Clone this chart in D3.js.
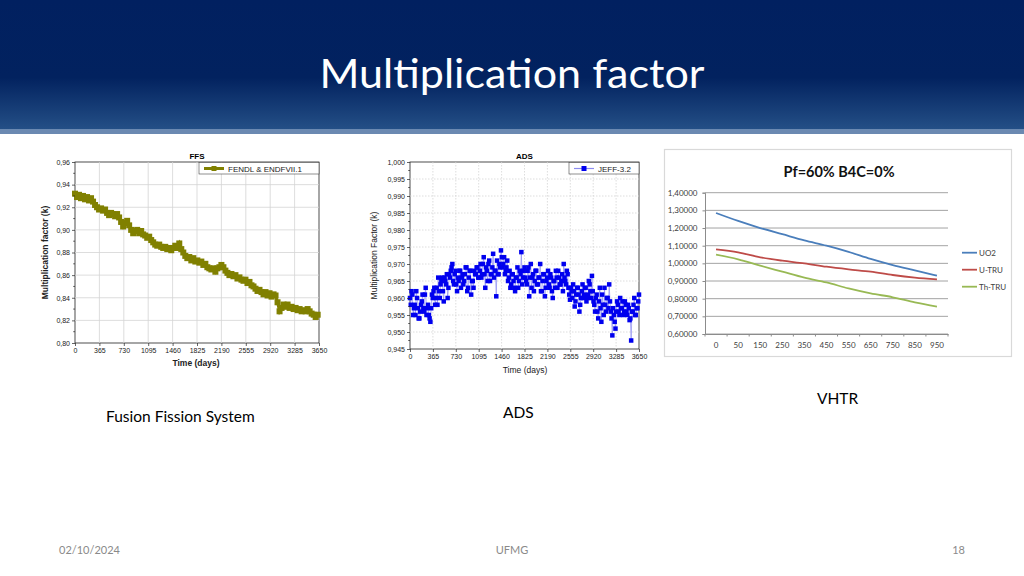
<!DOCTYPE html>
<html>
<head>
<meta charset="utf-8">
<script src="https://cdn.jsdelivr.net/npm/d3@7"></script>
<style>
body{margin:0;background:#fff}
svg{display:block}
</style>
</head>
<body>
<svg width="1024" height="576"></svg>
<script>
// ---- data ----
const FFS_STEP = 30  // days between samples
const FFS_K = [0.932,0.929,0.931,0.928,0.930,0.927,0.929,0.926,0.928,0.925,0.922,0.920,0.918,0.919,0.917,0.918,0.915,0.913,0.915,0.914,
  0.912,0.914,0.911,0.907,0.903,0.906,0.908,0.904,0.900,0.897,0.899,0.900,0.897,0.899,0.896,0.895,0.893,0.894,0.891,0.889,
  0.887,0.886,0.887,0.885,0.884,0.885,0.883,0.884,0.882,0.884,0.886,0.884,0.888,0.883,0.880,0.877,0.875,0.876,0.873,0.875,
  0.872,0.873,0.871,0.872,0.869,0.870,0.867,0.866,0.865,0.866,0.863,0.866,0.867,0.869,0.867,0.864,0.862,0.860,0.861,0.859,
  0.860,0.857,0.858,0.856,0.855,0.856,0.853,0.854,0.851,0.850,0.848,0.846,0.847,0.845,0.843,0.845,0.842,0.844,0.841,0.843,
  0.842,0.836,0.828,0.831,0.834,0.832,0.834,0.831,0.832,0.830,0.831,0.829,0.830,0.828,0.829,0.828,0.830,0.828,0.826,0.825,
  0.823,0.825]
const ADS_STEP = 25
// samples on whole steps (0, 25, 50 ...)
const ADS_K = [0.960,0.962,0.955,0.958,0.962,0.957,0.954,0.958,0.961,0.956,0.963,0.957,0.955,0.953,0.961,0.962,0.958,0.963,0.966,0.960,
  0.965,0.962,0.966,0.964,0.960,0.967,0.968,0.970,0.964,0.968,0.962,0.965,0.968,0.966,0.964,0.967,0.969,0.963,0.968,0.961,
  0.965,0.968,0.967,0.969,0.966,0.970,0.967,0.972,0.963,0.968,0.970,0.965,0.967,0.973,0.968,0.9605,0.967,0.970,0.974,0.969,
  0.972,0.968,0.971,0.966,0.963,0.967,0.965,0.962,0.966,0.963,0.968,0.9735,0.966,0.969,0.965,0.968,0.9605,0.970,0.966,0.962,
  0.968,0.964,0.966,0.970,0.962,0.967,0.9605,0.965,0.968,0.963,0.966,0.960,0.965,0.968,0.963,0.966,0.964,0.967,0.970,0.965,
  0.968,0.963,0.9595,0.962,0.964,0.9575,0.961,0.963,0.956,0.960,0.964,0.961,0.963,0.960,0.965,0.962,0.9665,0.959,0.956,0.961,
  0.954,0.963,0.953,0.958,0.963,0.956,0.960,0.964,0.956,0.949,0.955,0.951,0.959,0.956,0.960,0.957,0.955,0.959,0.956,0.958,
  0.9535,0.9475,0.956,0.960,0.955,0.957,0.961]
// samples on half steps (12.5, 37.5 ...)
const ADS_K_HALF = [0.958,0.961,0.957,0.955,0.960,0.954,0.956,0.959,0.957,0.961,0.955,0.958,0.954,0.957,0.960,
  0.963,0.960,0.958,0.962,0.964,0.966,0.959,0.965,0.967,0.963,0.966,0.969,0.965,0.967,0.964,
  0.966,0.968,0.963,0.967,0.965,0.969,0.962,0.966,0.968,0.965,0.963,0.967,0.969,0.966,
  0.968,0.966,0.970,0.967,0.969,0.965,0.971,0.967,0.969,0.966,0.968,0.971,0.967,0.969,0.972,
  0.970,0.967,0.969,0.965,0.968,0.964,0.967,0.963,0.966,0.969,0.965,0.967,0.964,0.968,
  0.966,0.964,0.969,0.966,0.963,0.967,0.965,0.968,0.964,0.966,0.962,0.965,0.967,0.963,0.966,
  0.964,0.967,0.962,0.965,0.963,0.966,0.968,0.964,0.965,0.962,0.966,0.964,0.967,0.961,0.963,
  0.960,0.962,0.959,0.963,0.961,0.958,0.962,0.960,0.963,0.959,0.961,0.964,0.960,0.962,
  0.958,0.960,0.956,0.959,0.957,0.961,0.955,0.958,0.960,0.957,0.959,0.954,0.957,0.953,0.956,
  0.958,0.955,0.957,0.959,0.956,0.958,0.955,0.957,0.954,0.956,0.958,0.955,0.957,0.959]
const DAY_TICKS = [0,365,730,1095,1460,1825,2190,2555,2920,3285,3650]
const FFS_Y_TICKS = [0.80,0.82,0.84,0.86,0.88,0.90,0.92,0.94,0.96]
const ADS_Y_TICKS = [0.945,0.950,0.955,0.960,0.965,0.970,0.975,0.980,0.985,0.990,0.995,1.000]

const VHTR_X = ['0','50','150','250','350','450','550','650','750','850','950']
const VHTR_UO2 = [1.285,1.240,1.200,1.165,1.130,1.100,1.065,1.025,0.990,0.960,0.930]
const VHTR_UTRU = [1.079,1.062,1.034,1.015,1.000,0.981,0.966,0.953,0.934,0.919,0.909]
const VHTR_THTRU = [1.049,1.023,0.987,0.953,0.919,0.892,0.858,0.830,0.808,0.779,0.755]
const VHTR_Y_TICKS = [0.6,0.7,0.8,0.9,1.0,1.1,1.2,1.3,1.4]

const svg = d3.select('svg')
const locale = d3.formatLocale({decimal: ',', thousands: '.', grouping: [3], currency: ['', '']})

// ---- slide header ----
const defs = svg.append('defs')
const grad = defs.append('linearGradient').attr('id', 'hdr').attr('x1', 0).attr('y1', 0).attr('x2', 0).attr('y2', 1)
grad.append('stop').attr('offset', '0').attr('stop-color', '#012060')
grad.append('stop').attr('offset', '0.6').attr('stop-color', '#02225f')
grad.append('stop').attr('offset', '1').attr('stop-color', '#244f86')
svg.append('rect').attr('x', 0).attr('y', 0).attr('width', 1024).attr('height', 129).attr('fill', 'url(#hdr)')
svg.append('rect').attr('x', 0).attr('y', 129).attr('width', 1024).attr('height', 5).attr('fill', '#6b89b1')
svg.append('text').attr('x', 512).attr('y', 88).attr('text-anchor', 'middle')
  .attr('font-family', 'Lato, sans-serif').attr('font-size', 40).attr('fill', '#fff')
  .attr('textLength', 385).attr('lengthAdjust', 'spacingAndGlyphs')
  .text('Multiplication factor')

// ---- generic Origin-style scatter/line chart ----
const drawOrigin = (opt) => {
  const g = svg.append('g')
  const {left, right, top, bottom} = opt
  const xScale = d3.scaleLinear().domain([0, 3650]).range([left, right])
  const yScale = d3.scaleLinear().domain(opt.yDomain).range([bottom, top])
  const fmt = locale.format(opt.fmt)

  g.append('rect').attr('x', left).attr('y', top).attr('width', right - left).attr('height', bottom - top)
    .attr('fill', '#fff').attr('stroke', '#222').attr('stroke-width', 0.8)

  // grid
  g.append('g').selectAll('line').data(DAY_TICKS.slice(1, -1)).enter().append('line')
    .attr('x1', d => xScale(d)).attr('x2', d => xScale(d)).attr('y1', top).attr('y2', bottom)
    .attr('stroke', '#d4d4d4').attr('stroke-width', 0.8).attr('stroke-dasharray', opt.dash)
  g.append('g').selectAll('line').data(opt.yTicks.slice(1, -1)).enter().append('line')
    .attr('y1', d => yScale(d)).attr('y2', d => yScale(d)).attr('x1', left).attr('x2', right)
    .attr('stroke', '#d4d4d4').attr('stroke-width', 0.8).attr('stroke-dasharray', opt.dash)

  // series
  const pts = opt.points
  g.append('path').datum(pts)
    .attr('d', d3.line().x(d => xScale(d[0])).y(d => yScale(d[1])))
    .attr('fill', 'none').attr('stroke', opt.lineColor).attr('stroke-width', opt.lineWidth)
  g.append('g').selectAll('rect').data(pts).enter().append('rect')
    .attr('x', d => xScale(d[0]) - opt.marker / 2).attr('y', d => yScale(d[1]) - opt.marker / 2)
    .attr('width', opt.marker).attr('height', opt.marker).attr('fill', opt.markerColor)

  // axes
  const minor = []
  for (let i = 0; i < opt.yTicks.length - 1; i++) minor.push((opt.yTicks[i] + opt.yTicks[i + 1]) / 2)
  const yAxis = g.append('g').attr('transform', `translate(${left},0)`)
    .call(d3.axisLeft(yScale).tickValues(opt.yTicks).tickFormat(fmt).tickSize(3).tickPadding(2))
  yAxis.append('g').selectAll('line').data(minor).enter().append('line')
    .attr('x1', 0).attr('x2', -1.8).attr('y1', d => yScale(d)).attr('y2', d => yScale(d)).attr('stroke', '#000')
  const xAxis = g.append('g').attr('transform', `translate(0,${bottom})`)
    .call(d3.axisBottom(xScale).tickValues(DAY_TICKS).tickFormat(d3.format('d')).tickSize(3).tickPadding(2))
  ;[yAxis, xAxis].forEach(a => {
    a.select('.domain').remove()
    a.selectAll('text').attr('font-family', 'Liberation Sans, Arial, sans-serif').attr('font-size', 7).attr('fill', '#222')
    a.selectAll('line').attr('stroke', '#222').attr('stroke-width', 0.7)
  })

  // labels
  const weight = opt.bold ? 'bold' : 'normal'
  g.append('text').attr('x', (left + right) / 2).attr('y', top - 3).attr('text-anchor', 'middle')
    .attr('font-family', 'Liberation Sans, Arial, sans-serif').attr('font-size', 8).attr('font-weight', 'bold').text(opt.title)
  g.append('text').attr('x', opt.xLabelX).attr('y', opt.xLabelY).attr('text-anchor', 'middle')
    .attr('font-family', 'Liberation Sans, Arial, sans-serif').attr('font-size', 8.5).attr('font-weight', weight)
    .attr('fill', '#222').text('Time (days)')
  g.append('text').attr('transform', `translate(${opt.yLabelX},${(top + bottom) / 2}) rotate(-90)`)
    .attr('text-anchor', 'middle').attr('font-family', 'Liberation Sans, Arial, sans-serif')
    .attr('font-size', 8.5).attr('font-weight', weight).attr('fill', '#222').text(opt.yLabel)

  // legend
  const lg = g.append('g').attr('transform', `translate(${opt.legendX},${top})`)
  lg.append('rect').attr('x', 0).attr('y', 0.5).attr('width', right - opt.legendX).attr('height', 11.5)
    .attr('fill', '#fff').attr('stroke', '#444').attr('stroke-width', 0.6)
  lg.append('line').attr('x1', 5).attr('x2', 25).attr('y1', 6.5).attr('y2', 6.5)
    .attr('stroke', opt.lineColor).attr('stroke-width', Math.max(opt.lineWidth, 1.2))
  lg.append('rect').attr('x', 12.5).attr('y', 4).attr('width', 5).attr('height', 5).attr('fill', opt.markerColor)
  lg.append('text').attr('x', 29).attr('y', 9.5).attr('font-family', 'Liberation Sans, Arial, sans-serif')
    .attr('font-size', 8).attr('fill', '#222').text(opt.legend)
}

const ffsPoints = FFS_K.map((v, i) => [i * FFS_STEP, v])
drawOrigin({
  left: 75, right: 319, top: 162, bottom: 343,
  yDomain: [0.80, 0.96], yTicks: FFS_Y_TICKS, fmt: '.2f',
  points: ffsPoints,
  lineColor: '#808000', lineWidth: 3, markerColor: '#808000', marker: 6,
  dash: null, bold: true, title: 'FFS',
  xLabelX: 196, xLabelY: 366, yLabelX: 48, yLabel: 'Multiplication factor (k)',
  legendX: 199, legend: 'FENDL & ENDFVII.1'
})

const adsPoints = ADS_K.map((v, i) => [i * ADS_STEP, v])
  .concat(ADS_K_HALF.map((v, i) => [(i + 0.5) * ADS_STEP, v]))
  .sort((a, b) => a[0] - b[0])
drawOrigin({
  left: 410, right: 639, top: 162, bottom: 349,
  yDomain: [0.945, 1.000], yTicks: ADS_Y_TICKS, fmt: '.3f',
  points: adsPoints,
  lineColor: '#8c8cf0', lineWidth: 0.7, markerColor: '#0000ee', marker: 4.5,
  dash: '1.5,1.5', bold: false, title: 'ADS',
  xLabelX: 525, xLabelY: 373, yLabelX: 377, yLabel: 'Multiplication Factor (k)',
  legendX: 569, legend: 'JEFF-3.2'
})

// ---- VHTR (Excel style) ----
const drawVhtr = () => {
  const g = svg.append('g')
  const left = 705, right = 948, top = 192.7, bottom = 334
  g.append('rect').attr('x', 664.5).attr('y', 149.5).attr('width', 347).attr('height', 207)
    .attr('fill', '#fff').attr('stroke', '#d9d9d9').attr('stroke-width', 1.2)
  const xScale = d3.scaleBand().domain(VHTR_X).range([left, right])
  const yScale = d3.scaleLinear().domain([0.6, 1.4]).range([bottom, top])
  const fmt = locale.format('.5f')

  g.append('g').selectAll('line').data(VHTR_Y_TICKS).enter().append('line')
    .attr('x1', left).attr('x2', right).attr('y1', d => yScale(d)).attr('y2', d => yScale(d))
    .attr('stroke', '#8c8c8c').attr('stroke-width', 0.8)

  const yAxis = g.append('g').attr('transform', `translate(${left},0)`)
    .call(d3.axisLeft(yScale).tickValues(VHTR_Y_TICKS).tickFormat(fmt).tickSize(2.5).tickPadding(5))
  const xAxis = g.append('g').attr('transform', `translate(0,${bottom})`)
    .call(d3.axisBottom(xScale).tickSize(0).tickPadding(8))
  xAxis.append('g').selectAll('line').data(VHTR_X.concat(['end'])).enter().append('line')
    .attr('x1', (d, i) => left + i * xScale.step()).attr('x2', (d, i) => left + i * xScale.step())
    .attr('y1', 0).attr('y2', 2.5).attr('stroke', '#8c8c8c')
  ;[yAxis, xAxis].forEach(a => {
    a.select('.domain').attr('stroke', '#8c8c8c')
    a.selectAll('.tick line').attr('stroke', '#8c8c8c')
    a.selectAll('text').attr('font-family', 'Lato, sans-serif').attr('font-size', 8).attr('fill', '#404040')
  })

  const series = [
    {name: 'UO2', values: VHTR_UO2, color: '#4a7ebb'},
    {name: 'U-TRU', values: VHTR_UTRU, color: '#be4b48'},
    {name: 'Th-TRU', values: VHTR_THTRU, color: '#98b954'}
  ]
  const line = d3.line().curve(d3.curveMonotoneX)
    .x((d, i) => xScale(VHTR_X[i]) + xScale.bandwidth() / 2).y(d => yScale(d))
  series.forEach((s, k) => {
    g.append('path').datum(s.values).attr('d', line).attr('fill', 'none')
      .attr('stroke', s.color).attr('stroke-width', 1.8)
    const ly = 252.7 + k * 17
    g.append('line').attr('x1', 962).attr('x2', 977).attr('y1', ly).attr('y2', ly)
      .attr('stroke', s.color).attr('stroke-width', 1.8)
    g.append('text').attr('x', 979).attr('y', ly + 3).attr('font-family', 'Lato, sans-serif')
      .attr('font-size', 8).attr('fill', '#404040').text(s.name)
  })
  g.append('text').attr('x', 839).attr('y', 177).attr('text-anchor', 'middle')
    .attr('font-family', 'Lato, sans-serif').attr('font-size', 14.5).attr('font-weight', 'bold')
    .attr('fill', '#111').text('Pf=60% B4C=0%')
}
drawVhtr()

// ---- captions and footer ----
const caption = (x, y, t, size, color, anchor) => svg.append('text').attr('x', x).attr('y', y)
  .attr('text-anchor', anchor || 'start').attr('font-family', 'Lato, sans-serif')
  .attr('font-size', size).attr('fill', color).text(t)
caption(106, 422, 'Fusion Fission System', 15.5, '#000')
caption(503, 418, 'ADS', 15.5, '#000')
caption(817, 404, 'VHTR', 15.5, '#000')
caption(59, 554, '02/10/2024', 11, '#8a8a8a')
caption(512, 554, 'UFMG', 11, '#8a8a8a', 'middle')
caption(965, 554, '18', 11, '#8a8a8a', 'end')
</script>
</body>
</html>
